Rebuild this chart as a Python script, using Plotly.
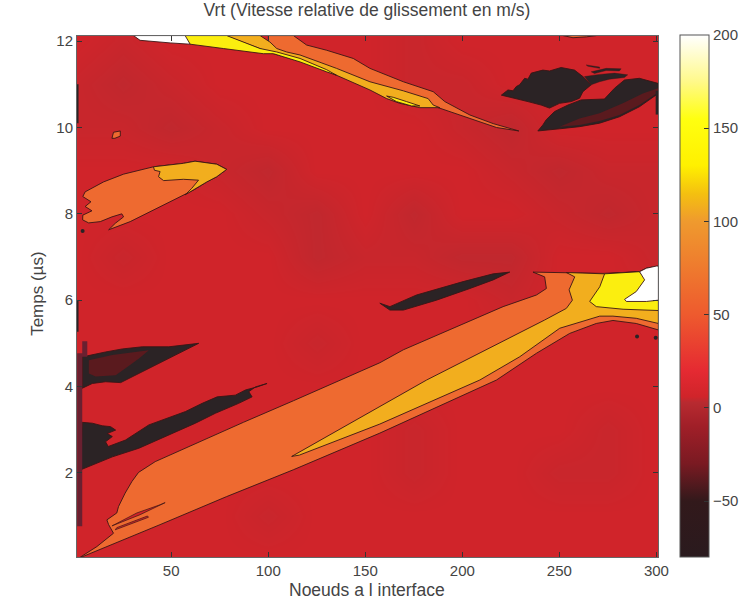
import plotly.graph_objects as go

# Background field (m/s) read from the faint shading
grid_x = [1, 25, 50, 75, 100, 125, 150, 175, 200, 225, 250, 275, 300]
grid_y = [0, 1, 2, 3, 4, 5, 6, 7, 8, 9, 10, 11, 12]
grid_z = [
    [6, 6, 6, 6, 6, 6, 6, 6, 6, 6, 6, 6, 6],
    [6, 6, 6, 6, 5, 6, 6, 6, 6, 6, 6, 6, 6],
    [6, 6, 6, 6, 6, 6, 6, 5, 6, 6, 5, 5, 6],
    [6, 6, 6, 6, 6, 6, 6, 5, 6, 6, 6, 5, 6],
    [6, 6, 6, 6, 6, 6, 6, 6, 6, 6, 6, 6, 6],
    [6, 6, 6, 6, 6, 5, 6, 6, 6, 6, 6, 6, 6],
    [6, 6, 6, 6, 6, 6, 6, 6, 6, 5, 6, 6, 6],
    [6, 5, 6, 6, 6, 4, 5, 5, 4, 4, 6, 6, 5],
    [6, 6, 6, 6, 5, 4, 6, 4, 6, 6, 5, 4, 5],
    [6, 6, 6, 5, 4, 6, 6, 6, 6, 5, 4, 5, 5],
    [5, 5, 4, 5, 6, 6, 6, 6, 5, 4, 6, 6, 6],
    [5, 4, 5, 6, 6, 6, 6, 5, 5, 6, 6, 6, 6],
    [6, 5, 6, 6, 6, 6, 6, 5, 6, 6, 6, 6, 6],
]

x_ticks = [50, 100, 150, 200, 250, 300]
y_ticks = [2, 4, 6, 8, 10, 12]
bar_ticks = [-50, 0, 50, 100, 150, 200]

# Contour regions: node number, time in microseconds
band_x = [2.3, 11.7, 20.3, 17.8, 16.9, 22, 22.9, 26.3, 29.8, 33.2, 41.8, 61.5, 87.2, 113, 138.7, 157.5, 169.6, 195.3, 221, 238.2, 243.3, 242.4, 236.4, 272.5, 291.3, 294.8, 299.9, 301, 301, 289.6, 277.6, 269, 255.3, 238.2, 217.6, 157.5, 112.9, 78.6, 44.3, 15.2]
band_y = [0.02, 0.29, 0.60, 0.80, 0.91, 1.07, 1.22, 1.53, 1.80, 2.01, 2.26, 2.66, 3.17, 3.67, 4.18, 4.55, 4.85, 5.35, 5.85, 6.12, 6.27, 6.54, 6.65, 6.62, 6.66, 6.74, 6.79, 6.79, 5.31, 5.46, 5.53, 5.46, 5.23, 4.77, 4.15, 2.92, 2.07, 1.45, 0.80, 0.26]
slit1_x = [19.5, 34, 46.9, 44.3, 32.3, 20.3]
slit1_y = [0.77, 1.03, 1.31, 1.26, 1.07, 0.80]
slit2_x = [21.2, 38.3, 37.8, 22]
slit2_y = [0.68, 0.97, 1.0, 0.73]
band_gold_x = [112.1, 157.5, 181.6, 242.4, 245.9, 253.6, 256.7, 255, 257.9, 253.6, 273.3, 291.3, 301, 301, 289.6, 277.6, 270.8, 250.2, 229.6, 209, 157.5, 116]
band_gold_y = [2.38, 3.54, 4.15, 5.54, 5.63, 5.81, 6.0, 6.24, 6.54, 6.64, 6.61, 6.66, 6.6, 5.46, 5.58, 5.63, 5.63, 5.35, 4.69, 4.15, 3.13, 2.41]
band_yellow_x = [273.3, 291.3, 294.8, 301, 301, 282.8, 269, 265.6, 270.8]
band_yellow_y = [6.61, 6.66, 6.47, 6.0, 5.76, 5.79, 5.85, 5.97, 6.31]
band_white_x = [291.3, 294.8, 299.9, 301, 301, 294.8, 284.5, 283.6, 289.6, 293.9]
band_white_y = [6.66, 6.74, 6.79, 6.79, 6.0, 5.97, 5.97, 6.02, 6.20, 6.47]

blob_x = [5.7, 15.2, 25.5, 40.9, 56.3, 62.3, 73.5, 78.6, 73.5, 68.4, 61.5, 51.2, 40.9, 28.9, 17.8, 21.2, 25.5, 24.6, 19.5, 13.5, 7.5, 4.4, 4.5, 9.2, 5.7, 8.7, 4.5]
blob_y = [8.51, 8.74, 8.92, 9.09, 9.17, 9.22, 9.15, 9.03, 8.86, 8.74, 8.55, 8.32, 8.09, 7.82, 7.63, 7.78, 7.93, 8.0, 7.93, 7.82, 7.79, 7.86, 7.97, 8.07, 8.17, 8.28, 8.40]
blob_gold_x = [40.9, 56.3, 62.3, 73.5, 78.6, 73.5, 68.4, 61.5, 57.2, 60.6, 64.1, 56.3, 46.1, 43.5, 44.3, 41.4]
blob_gold_y = [9.09, 9.17, 9.22, 9.15, 9.03, 8.86, 8.74, 8.55, 8.44, 8.59, 8.78, 8.80, 8.77, 8.86, 8.98, 9.01]
speck_x = [19.5, 20.3, 23.8, 23.8, 21]
speck_y = [9.75, 9.89, 9.92, 9.80, 9.75]

top_orange_x = [100.1, 113, 119.8, 130.1, 143.8, 152.4, 169.6, 185, 191, 203.9, 215.9, 229.1, 217.6, 203.9, 189.3, 188.4, 152.4, 113, 100.1]
top_orange_y = [12.13, 12.13, 11.91, 11.79, 11.60, 11.37, 11.06, 10.83, 10.60, 10.29, 10.09, 9.92, 10.0, 10.21, 10.44, 10.46, 11.0, 11.6, 11.8]
top_gold_x = [77.8, 95.8, 100.9, 104.4, 109.5, 116.4, 135.2, 152.4, 169.6, 182.4, 185, 188.4, 178.1, 173.8, 167.8, 161, 152.4, 135.2, 123.2, 102.7, 95.8]
top_gold_y = [12.13, 12.13, 11.98, 11.83, 11.75, 11.68, 11.37, 11.06, 10.85, 10.67, 10.52, 10.46, 10.46, 10.50, 10.56, 10.67, 10.87, 11.21, 11.44, 11.71, 11.83]
top_yellow_x = [55.5, 59.8, 76.9, 97.5, 102.7, 116.4, 130.1, 135.2, 130.1, 116.4, 104.4, 95.8, 78.6]
top_yellow_y = [12.13, 11.93, 11.83, 11.71, 11.71, 11.52, 11.29, 11.21, 11.34, 11.60, 11.75, 11.83, 12.13]
island_x = [161, 166.1, 173.8, 178.1, 171.3, 164.4]
island_y = [10.73, 10.60, 10.50, 10.50, 10.60, 10.70]
top_white_x = [30.6, 34.0, 49.5, 59.8, 57.2]
top_white_y = [12.13, 12.02, 11.96, 11.93, 12.13]
sliver_x = [251.9, 257, 263.9, 269]
sliver_y = [12.13, 12.08, 12.10, 12.13]

dark_blob_x = [220.1, 223.5, 226.1, 227.8, 229.5, 232.1, 233.8, 235.5, 241.5, 244.9, 250.9, 257.8, 262.1, 266.4, 262.1, 260.4, 256.1, 250.1, 244.9, 240.6, 233.8, 226.9]
dark_blob_y = [10.75, 10.87, 10.85, 10.95, 10.99, 11.14, 11.12, 11.26, 11.33, 11.31, 11.39, 11.33, 11.18, 10.99, 10.83, 10.68, 10.60, 10.56, 10.45, 10.52, 10.60, 10.68]
fringe1_x = [263.8, 270.7, 270.7, 264.7]
fringe1_y = [11.45, 11.40, 11.37, 11.42]
fringe2_x = [266.4, 274.1, 281.8, 280.9, 274.1, 268.1]
fringe2_y = [11.29, 11.37, 11.36, 11.31, 11.32, 11.25]
fringe3_x = [262.9, 270.7, 278.4, 285.2, 283.5, 275.8, 270.7, 266.4]
fringe3_y = [11.18, 11.23, 11.26, 11.22, 11.16, 11.12, 11.06, 10.99]
dark_streak_x = [238.9, 241.5, 243.2, 247.5, 254.4, 261.2, 273.2, 278.4, 283.5, 291.2, 301, 301, 291.2, 281, 270.7, 260.4, 250.1]
dark_streak_y = [9.92, 10.06, 10.18, 10.37, 10.52, 10.64, 10.66, 10.91, 11.10, 11.14, 11.02, 10.79, 10.48, 10.25, 10.10, 10.02, 9.97]
maroon_streak_x = [250.1, 260.4, 270.7, 282.7, 293, 301, 301, 291.2, 281, 270.7, 260.4]
maroon_streak_y = [10.02, 10.21, 10.33, 10.56, 10.79, 10.91, 10.82, 10.52, 10.29, 10.15, 10.06]
mid_dark_x = [157.5, 162.7, 169.6, 186.7, 203.9, 215.9, 224.4, 215.9, 200.4, 185, 176.4, 162.7]
mid_dark_y = [5.93, 5.77, 5.77, 6.0, 6.27, 6.47, 6.65, 6.61, 6.43, 6.24, 6.12, 5.85]
left_dark1_x = [4.2, 6.8, 16.2, 24.8, 35.1, 48.8, 64.2, 54, 42.8, 33.4, 24, 16.2, 9.4, 4.2]
left_dark1_y = [4.73, 4.71, 4.80, 4.87, 4.92, 4.92, 5.0, 4.77, 4.53, 4.30, 4.09, 4.11, 4.07, 3.96]
left_maroon_x = [7.6, 19.7, 38.5, 33.4, 26.5, 21.4, 11.1, 7.6]
left_maroon_y = [4.61, 4.73, 4.84, 4.65, 4.42, 4.26, 4.23, 4.30]
left_dark2_x = [4.2, 9.4, 14.5, 18.8, 21.4, 17.1, 19.7, 16.2, 17.6, 26.5, 38.5, 48, 57.4, 66, 73.7, 83.1, 88.3, 94.3, 99.4, 93.4, 90, 91.7, 84.8, 72.8, 62.5, 47.1, 33.4, 19.7, 9.4, 3.4]
left_dark2_y = [3.17, 3.15, 3.09, 3.07, 2.99, 2.91, 2.84, 2.72, 2.61, 2.76, 3.11, 3.26, 3.42, 3.61, 3.76, 3.80, 3.92, 3.99, 4.07, 3.99, 3.88, 3.76, 3.61, 3.38, 3.15, 2.84, 2.57, 2.37, 2.18, 2.07]
edge_bar_x = [1.6, 1.6, 4.2, 4.2, 6.8, 6.8, 4.2, 4.2]
edge_bar_y = [0.76, 4.77, 4.77, 5.05, 5.05, 4.69, 4.69, 0.76]
edge_line1_x = [1.5, 1.5, 2.3, 2.3]
edge_line1_y = [10.1, 11.0, 11.0, 10.1]
edge_line2_x = [1.5, 1.5, 2.3, 2.3]
edge_line2_y = [5.27, 6.0, 6.0, 5.27]
edge_line3_x = [299.6, 299.6, 300.8, 300.8]
edge_line3_y = [10.3, 10.85, 10.85, 10.3]
dots_x = [4.4, 290, 299.6]
dots_y = [7.60, 5.16, 5.13]

ORANGE, GOLD, YELLOW, WHITE = "#EE6A30", "#F2AE1E", "#FBEE0F", "#FFFFFF"
DARK, MAROON, RED = "#2B2325", "#5A1A1E", "#D0242A"
EDGE = "#3A1515"

colorscale = [
    [0.0, "#2a1a1e"], [0.107, "#32191b"], [0.179, "#7a1a22"], [0.25, "#a01f28"],
    [0.296, "#b82a30"], [0.307, "#d0242a"], [0.357, "#e52a32"], [0.464, "#ee5a2e"],
    [0.643, "#ef9a2e"], [0.696, "#f4c010"], [0.75, "#fff000"], [0.839, "#ffff10"],
    [0.911, "#fff98a"], [1.0, "#ffffff"],
]

fig = go.Figure()
fig.add_trace(go.Heatmap(
    x=grid_x, y=grid_y, z=grid_z, zmin=-80, zmax=200, zsmooth="best",
    colorscale=colorscale, hoverinfo="skip",
    colorbar=dict(
        x=1.0379, xanchor="left", xpad=0, y=1.002, yanchor="top", ypad=0,
        lenmode="pixels", len=522, thicknessmode="pixels", thickness=29,
        outlinecolor="#555", outlinewidth=1, ticks="inside", ticklen=5,
        tickcolor="#333", tickvals=bar_ticks,
        ticktext=["\u221250", "0", "50", "100", "150", "200"],
        tickfont=dict(family="Liberation Sans", size=15, color="#444"),
    ),
))

def region(xs, ys, color, width=0.9):
    fig.add_trace(go.Scatter(
        x=xs + xs[:1], y=ys + ys[:1], mode="lines", fill="toself", fillcolor=color,
        line=dict(color=EDGE, width=width), hoverinfo="skip", showlegend=False,
    ))

region(band_x, band_y, ORANGE)
region(slit1_x, slit1_y, RED, 0.7)
region(slit2_x, slit2_y, RED, 0.7)
region(band_gold_x, band_gold_y, GOLD)
region(band_yellow_x, band_yellow_y, YELLOW)
region(band_white_x, band_white_y, WHITE)
region(blob_x, blob_y, ORANGE)
region(blob_gold_x, blob_gold_y, GOLD)
region(speck_x, speck_y, ORANGE)
region(top_orange_x, top_orange_y, ORANGE)
region(top_gold_x, top_gold_y, GOLD)
region(top_yellow_x, top_yellow_y, YELLOW)
region(island_x, island_y, YELLOW)
region(top_white_x, top_white_y, WHITE)
region(sliver_x, sliver_y, ORANGE)
region(dark_blob_x, dark_blob_y, DARK)
region(fringe1_x, fringe1_y, DARK, 0.4)
region(fringe2_x, fringe2_y, DARK, 0.4)
region(fringe3_x, fringe3_y, DARK, 0.4)
region(dark_streak_x, dark_streak_y, DARK)
region(maroon_streak_x, maroon_streak_y, MAROON, 0)
region(mid_dark_x, mid_dark_y, DARK)
region(left_dark1_x, left_dark1_y, DARK)
region(left_maroon_x, left_maroon_y, MAROON, 0)
region(left_dark2_x, left_dark2_y, DARK)
region(edge_bar_x, edge_bar_y, "#6A2030", 0)
region(edge_line1_x, edge_line1_y, DARK, 0)
region(edge_line2_x, edge_line2_y, DARK, 0)
region(edge_line3_x, edge_line3_y, DARK, 0)
fig.add_trace(go.Scatter(
    x=dots_x, y=dots_y, mode="markers", marker=dict(color=DARK, size=4),
    hoverinfo="skip", showlegend=False,
))

axis_font = dict(family="Liberation Sans", size=15, color="#444")
title_font = dict(family="Liberation Sans", size=17.5, color="#444")
fig.update_layout(
    width=755, height=602,
    margin=dict(l=77, r=97, t=36, b=45, autoexpand=False),
    paper_bgcolor="white", plot_bgcolor="#d0242a",
    title=dict(text="Vrt (Vitesse relative de glissement en m/s)", x=0.486, xanchor="center",
               y=0.983, yanchor="middle", font=dict(family="Liberation Sans", size=17.5, color="#444")),
    xaxis=dict(range=[1.5, 300.8], tickvals=x_ticks, ticks="inside", ticklen=5, tickcolor="#333",
               showgrid=False, zeroline=False, showline=True, linecolor="#666", mirror="ticks",
               tickfont=axis_font, automargin=False),
    yaxis=dict(range=[0.05, 12.12], tickvals=y_ticks, ticks="inside", ticklen=5, tickcolor="#333",
               showgrid=False, zeroline=False, showline=True, linecolor="#666", mirror="ticks",
               tickfont=axis_font, automargin=False),
    annotations=[
        dict(text="Noeuds a l interface", xref="paper", yref="paper", x=0.4991, y=-0.0633,
             xanchor="center", yanchor="middle", showarrow=False, font=title_font),
        dict(text="Temps (\u00b5s)", xref="paper", yref="paper", x=-0.0672, y=0.505, textangle=-90,
             xanchor="center", yanchor="middle", showarrow=False,
             font=dict(family="Liberation Sans", size=17, color="#444")),
    ],
)
fig.write_html("out.html", config={"displayModeBar": False},
               post_script="document.body.style.margin='0';document.documentElement.style.overflow='hidden';")
